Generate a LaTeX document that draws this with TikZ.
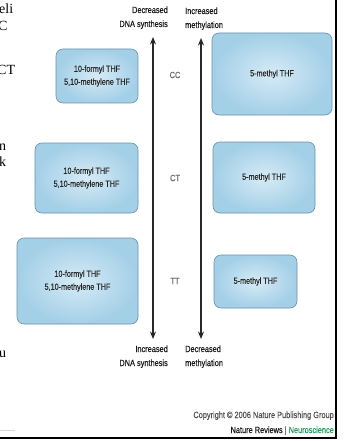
\documentclass[tikz,border=0pt]{standalone}
\usepackage{fontspec}
\setsansfont{Liberation Sans}[FakeStretch=0.82,FakeBold=0.25]
\newfontfamily\cutserif{Liberation Serif}
\usetikzlibrary{arrows.meta}
\definecolor{boxin}{RGB}{214,235,246}
\definecolor{boxout}{RGB}{163,207,231}
\definecolor{boxline}{RGB}{105,145,175}
\definecolor{arrowgray}{RGB}{40,40,40}
\definecolor{gengray}{RGB}{105,105,105}
\definecolor{copygray}{RGB}{80,80,80}
\definecolor{neurogreen}{RGB}{40,150,90}
\tikzset{
  thf/.style={draw=boxline, line width=0.6pt, rounded corners=7pt,
    inner color=boxin, outer color=boxout, align=center, inner sep=0pt,
    font=\sffamily\fontsize{8.8}{13}\selectfont, text=black!85},
  axlbl/.style={inner sep=0pt, font=\sffamily\fontsize{9}{14}\selectfont, text=black!90},
  geno/.style={inner sep=0pt, font=\sffamily\fontsize{9}{11}\selectfont, text=gengray},
  axarrow/.style={draw=arrowgray, line width=1.3pt, {Stealth[length=7.5pt,width=6pt]}-{Stealth[length=7.5pt,width=6pt]}},
  frag/.style={inner sep=0pt, anchor=base west, font=\cutserif\fontsize{14}{16}\selectfont},
  copy/.style={inner sep=0pt, anchor=base east, font=\sffamily\fontsize{9}{11}\selectfont}
}
\begin{document}
\begin{tikzpicture}[x=1pt,y=-1pt]
\useasboundingbox (0,0) rectangle (344,441);
\fill[white] (0,0) rectangle (344,441);

% cut-off text fragments at the left edge
\node[frag] (f1) at (-1,14) {eli};
\node[frag] (f2) at (-2,31) {C};
\node[frag] (f3) at (-3,75) {CT};
\node[frag] (f4) at (-1,150) {n};
\node[frag] (f5) at (-1,166) {k};
\node[frag] (f6) at (-1,357) {u};
\draw[black!15, line width=1pt] (0,430) -- (15,430);

% frame
\draw[black, line width=2pt] (336,0) -- (336,438) -- (0,438);

% left column boxes
\node[thf, minimum width=82, minimum height=54] (b1) at (97,76) {10-formyl THF\\5,10-methylene THF};
\node[thf, minimum width=103, minimum height=70] (b2) at (86.5,178) {10-formyl THF\\5,10-methylene THF};
\node[thf, minimum width=121, minimum height=86] (b3) at (77.5,281) {10-formyl THF\\5,10-methylene THF};

% right column boxes
\node[thf, minimum width=120, minimum height=82] (b4) at (272,74) {5-methyl THF};
\node[thf, minimum width=102, minimum height=71] (b5) at (264,177.5) {5-methyl THF};
\node[thf, minimum width=83, minimum height=53] (b6) at (255.5,281.5) {5-methyl THF};

% genotype labels
\node[geno] (cc) at (175,75) {CC};
\node[geno] (ct) at (175,178) {CT};
\node[geno] (tt) at (175,281) {TT};

% axis labels (base anchor = baseline of last line)
\node[axlbl, anchor=base east, align=right] (dtop) at (168,27) {Decreased\\DNA synthesis};
\node[axlbl, anchor=base east, align=right] (dbot) at (168,366) {Increased\\DNA synthesis};
\node[axlbl, anchor=base west, align=left] (mtop) at (185,28) {Increased\\methylation};
\node[axlbl, anchor=base west, align=left] (mbot) at (185,366) {Decreased\\methylation};

% arrows
\coordinate (la1) at (153,37);
\coordinate (la2) at (153,339);
\coordinate (ra1) at (201,38);
\coordinate (ra2) at (201,339);
\draw[axarrow] (la2) -- (la1);
\draw[axarrow] (ra2) -- (ra1);

% copyright
\node[copy, text=copygray] (cp1) at (334,418) {Copyright \textcopyright\ 2006 Nature Publishing Group};
\node[copy] (cp2) at (334,433) {\textcolor{black!90}{Nature Reviews} \textcolor{copygray}{|} \textcolor{neurogreen}{Neuroscience}};
\end{tikzpicture}
\end{document}
